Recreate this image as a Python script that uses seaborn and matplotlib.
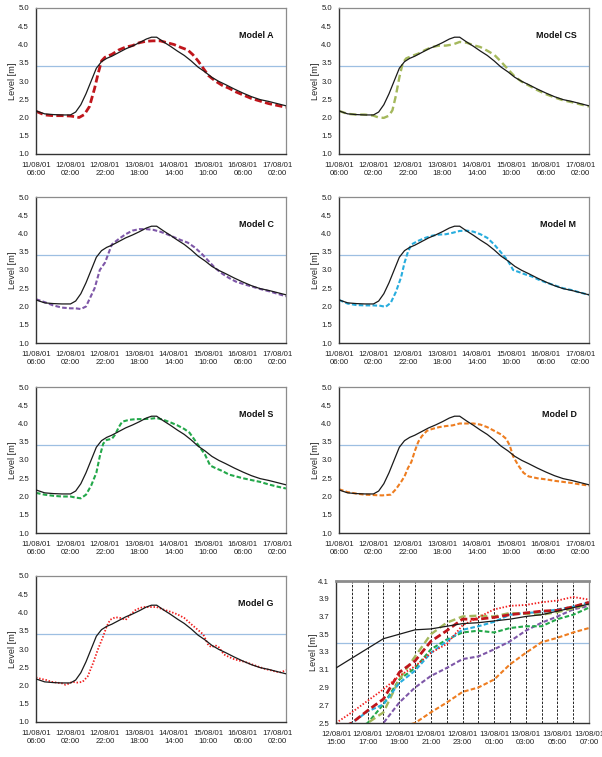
import matplotlib
matplotlib.use("Agg")
import matplotlib.pyplot as plt
import seaborn as sns
import pandas as pd

# hours after 11/08/01 06:00
tick_hours = [0, 20, 40, 60, 80, 100, 120, 140]
tick_labels = ["11/08/01\n06:00", "12/08/01\n02:00", "12/08/01\n22:00", "13/08/01\n18:00",
               "14/08/01\n14:00", "15/08/01\n10:00", "16/08/01\n06:00", "17/08/01\n02:00"]

obs_hours = [0, 5, 10, 15, 20, 23, 26, 29, 32, 35, 38, 41, 44, 48, 52, 56, 60, 64, 67, 70,
             74, 78, 82, 86, 90, 94, 98, 102, 106, 110, 115, 120, 125, 130, 135, 140, 145]
obs_level = [2.18, 2.10, 2.08, 2.07, 2.07, 2.15, 2.35, 2.65, 3.00, 3.35, 3.53, 3.62, 3.68, 3.78,
             3.88, 3.96, 4.05, 4.15, 4.20, 4.20, 4.07, 3.95, 3.82, 3.70, 3.55, 3.38, 3.25, 3.10,
             2.99, 2.90, 2.78, 2.67, 2.57, 2.49, 2.44, 2.38, 2.32]

a_hours = [0, 5, 10, 15, 20, 23, 25, 28, 31, 34, 36, 38, 40, 44, 48, 52, 56, 60, 64, 68, 72,
           76, 80, 84, 88, 91, 94, 97, 100, 104, 108, 112, 116, 120, 125, 130, 135, 140, 145]
a_level = [2.17, 2.07, 2.05, 2.05, 2.04, 2.02, 2.00, 2.08, 2.30, 2.80, 3.20, 3.55, 3.65, 3.73,
           3.85, 3.93, 3.97, 4.05, 4.09, 4.10, 4.10, 4.05, 4.00, 3.92, 3.85, 3.72, 3.55, 3.35,
           3.15, 3.00, 2.88, 2.80, 2.70, 2.62, 2.52, 2.45, 2.38, 2.33, 2.28]

cs_hours = [0, 5, 10, 15, 20, 23, 26, 29, 31, 33, 35, 37, 39, 42, 46, 50, 54, 58, 62, 66, 70,
            74, 78, 82, 86, 90, 94, 98, 102, 106, 110, 115, 120, 125, 130, 135, 140, 145]
cs_level = [2.18, 2.10, 2.08, 2.08, 2.05, 2.00, 1.99, 2.05, 2.20, 2.60, 3.10, 3.50, 3.62, 3.68,
            3.75, 3.85, 3.93, 3.97, 3.97, 4.00, 4.07, 4.05, 3.98, 3.93, 3.83, 3.72, 3.53, 3.32,
            3.12, 2.98, 2.88, 2.75, 2.64, 2.55, 2.47, 2.42, 2.36, 2.30]

c_hours = [0, 5, 10, 15, 20, 23, 26, 29, 31, 34, 37, 40, 42, 44, 48, 52, 56, 60, 64, 68, 72,
           76, 80, 84, 88, 92, 96, 100, 104, 108, 112, 116, 120, 125, 130, 135, 140, 145]
c_level = [2.20, 2.12, 2.03, 1.97, 1.95, 1.95, 1.93, 2.00, 2.20, 2.50, 3.00, 3.20, 3.45, 3.70,
           3.85, 3.98, 4.08, 4.12, 4.12, 4.10, 4.05, 3.98, 3.90, 3.82, 3.75, 3.62, 3.45, 3.25,
           3.05, 2.90, 2.78, 2.68, 2.62, 2.55, 2.48, 2.42, 2.35, 2.28]

m_hours = [0, 5, 10, 15, 20, 24, 27, 30, 33, 36, 38, 40, 42, 46, 50, 54, 58, 62, 66, 70, 74,
           78, 82, 86, 90, 94, 98, 101, 104, 108, 112, 116, 120, 125, 130, 135, 140, 145]
m_level = [2.18, 2.08, 2.04, 2.03, 2.03, 2.02, 1.99, 2.10, 2.40, 2.80, 3.20, 3.50, 3.70, 3.80,
           3.88, 3.94, 3.97, 3.98, 4.02, 4.07, 4.08, 4.05, 3.98, 3.88, 3.70, 3.48, 3.25, 3.00,
           2.95, 2.88, 2.82, 2.73, 2.66, 2.58, 2.50, 2.45, 2.38, 2.32]

s_hours = [0, 5, 10, 15, 20, 23, 26, 29, 32, 35, 37, 39, 41, 44, 46, 48, 50, 54, 58, 62, 66,
           70, 74, 78, 82, 86, 89, 92, 95, 98, 101, 104, 108, 112, 116, 120, 125, 130, 135,
           140, 145]
s_level = [2.10, 2.05, 2.02, 2.00, 2.00, 1.97, 1.95, 2.05, 2.30, 2.65, 3.10, 3.45, 3.55, 3.58,
           3.70, 3.90, 4.05, 4.10, 4.12, 4.12, 4.13, 4.15, 4.10, 4.03, 3.95, 3.85, 3.75, 3.55,
           3.35, 3.15, 2.85, 2.78, 2.70, 2.60, 2.55, 2.50, 2.45, 2.40, 2.33, 2.27, 2.22]

d_hours = [0, 5, 10, 15, 20, 25, 30, 33, 36, 38, 40, 42, 44, 46, 48, 51, 54, 58, 62, 66, 70,
           74, 78, 82, 86, 90, 94, 97, 99, 101, 104, 107, 110, 115, 120, 125, 130, 135, 140, 145]
d_level = [2.20, 2.12, 2.08, 2.05, 2.04, 2.03, 2.05, 2.20, 2.40, 2.55, 2.78, 2.95, 3.25, 3.50,
           3.65, 3.80, 3.85, 3.90, 3.93, 3.95, 4.00, 4.00, 4.00, 3.97, 3.90, 3.80, 3.70, 3.58,
           3.40, 3.10, 2.85, 2.65, 2.55, 2.50, 2.47, 2.43, 2.40, 2.37, 2.33, 2.30]

g_hours = [0, 3, 6, 9, 12, 15, 17, 19, 21, 24, 27, 30, 33, 36, 39, 41, 43, 46, 49, 52, 55, 58,
           62, 66, 70, 74, 78, 82, 86, 90, 94, 97, 100, 102, 104, 106, 109, 112, 115, 118, 121,
           124, 127, 130, 133, 136, 139, 142, 145]
g_level = [2.22, 2.18, 2.15, 2.10, 2.08, 2.06, 2.02, 2.05, 2.10, 2.08, 2.10, 2.25, 2.60, 3.00,
           3.35, 3.62, 3.80, 3.87, 3.85, 3.80, 3.95, 4.08, 4.15, 4.15, 4.15, 4.08, 4.02, 3.95,
           3.85, 3.68, 3.52, 3.40, 3.10, 3.05, 3.10, 3.05, 2.85, 2.78, 2.72, 2.68, 2.65, 2.60,
           2.55, 2.50, 2.45, 2.42, 2.38, 2.36, 2.42]

# zoomed window 12/08/01 15:00 .. 13/08/01 07:00, hourly
zoom_hours = list(range(33, 50))
zoom_tick_hours = [33, 35, 37, 39, 41, 43, 45, 47, 49]
zoom_tick_labels = ["12/08/01\n15:00", "12/08/01\n17:00", "12/08/01\n19:00", "12/08/01\n21:00",
                    "12/08/01\n23:00", "13/08/01\n01:00", "13/08/01\n03:00", "13/08/01\n05:00",
                    "13/08/01\n07:00"]
zoom_obs = [3.12, 3.23, 3.34, 3.45, 3.50, 3.55, 3.56, 3.59, 3.62, 3.63, 3.65, 3.67, 3.70, 3.72,
            3.76, 3.80, 3.84]
zoom_a = [2.42, 2.50, 2.64, 2.77, 3.07, 3.20, 3.42, 3.54, 3.67, 3.67, 3.69, 3.72, 3.74, 3.76,
          3.77, 3.81, 3.86]
zoom_cs = [2.20, 2.35, 2.50, 2.62, 2.99, 3.25, 3.50, 3.63, 3.70, 3.71, 3.70, 3.74, 3.73, 3.72,
           3.75, 3.79, 3.84]
zoom_c = [2.20, 2.30, 2.40, 2.50, 2.73, 2.90, 3.03, 3.12, 3.22, 3.25, 3.33, 3.42, 3.54, 3.63,
          3.70, 3.78, 3.82]
zoom_m = [2.42, 2.50, 2.63, 2.71, 2.95, 3.09, 3.29, 3.42, 3.55, 3.59, 3.64, 3.72, 3.74, 3.75,
          3.78, 3.81, 3.86]
zoom_s = [2.30, 2.40, 2.50, 2.71, 2.99, 3.12, 3.33, 3.44, 3.52, 3.54, 3.52, 3.57, 3.59, 3.59,
          3.67, 3.72, 3.80]
zoom_d = [2.10, 2.20, 2.30, 2.38, 2.45, 2.50, 2.62, 2.73, 2.85, 2.90, 2.99, 3.16, 3.29, 3.41,
          3.46, 3.52, 3.57]
zoom_g = [2.50, 2.62, 2.75, 2.88, 3.03, 3.14, 3.29, 3.39, 3.60, 3.69, 3.78, 3.82, 3.83, 3.86,
          3.88, 3.92, 3.89]

threshold = 3.4

RED = "#C0161C"
CS_COL = "#A4B85C"
PURPLE = "#7E57A8"
CYAN = "#27ADDE"
GREEN = "#23A84A"
ORANGE = "#EE7D20"
G_COL = "#F21C1C"
THR_COL = "#9DBFE2"

sns.set_style("white")
plt.rcParams["font.family"] = ["Liberation Sans", "DejaVu Sans"]

models = [
    ("Model A", a_hours, a_level, RED, 2.0, (2.6, 1.2)),
    ("Model CS", cs_hours, cs_level, CS_COL, 1.7, (3.0, 1.6)),
    ("Model C", c_hours, c_level, PURPLE, 1.5, (2.2, 1.1)),
    ("Model M", m_hours, m_level, CYAN, 1.5, (2.2, 1.1)),
    ("Model S", s_hours, s_level, GREEN, 1.5, (2.2, 1.1)),
    ("Model D", d_hours, d_level, ORANGE, 1.5, (2.2, 1.1)),
    ("Model G", g_hours, g_level, G_COL, 1.3, (0.8, 1.0)),
]

W, H = 602, 757
fig = plt.figure(figsize=(W / 100, H / 100), dpi=100)


def box(x0, y0, x1, y1):
    return [x0 / W, 1 - y1 / H, (x1 - x0) / W, (y1 - y0) / H]


def style_axes(ax, ylab_x):
    for side in ["top", "right"]:
        ax.spines[side].set_color("#8C8C8C")
        ax.spines[side].set_linewidth(0.9)
    for side in ["left", "bottom"]:
        ax.spines[side].set_color("#333333")
        ax.spines[side].set_linewidth(1.0)
    ax.tick_params(axis="both", labelsize=5.6, colors="#222222", length=2.5, width=0.8,
                   direction="out", pad=2.5)
    ax.tick_params(axis="x", pad=3.5)
    ax.set_xlabel("")
    ax.set_ylabel("Level [m]", fontsize=6.6, labelpad=2)
    ax.yaxis.set_label_coords(ylab_x, 0.5)
    for lab in ax.get_xticklabels():
        lab.set_linespacing(1.05)


cols = [(36, 286), (339, 589)]
rows = [(8, 154), (197, 343), (387, 533), (576, 722)]

for i, (name, hrs, lvl, color, lw, dash) in enumerate(models):
    x0, x1 = cols[i % 2]
    y0, y1 = rows[i // 2]
    ax = fig.add_axes(box(x0, y0, x1, y1))
    obs_df = pd.DataFrame({"hour": obs_hours, "level": obs_level})
    mod_df = pd.DataFrame({"hour": hrs, "level": lvl})
    ax.axhline(threshold, color=THR_COL, lw=0.9, zorder=1)
    sns.lineplot(data=obs_df, x="hour", y="level", ax=ax, color="#1a1a1a", lw=0.9, zorder=3)
    sns.lineplot(data=mod_df, x="hour", y="level", ax=ax, color=color, lw=lw, zorder=2)
    ax.lines[-1].set_dashes(dash)
    ax.set_xlim(0, 145)
    ax.set_ylim(1.0, 5.0)
    ax.set_yticks([1.0, 1.5, 2.0, 2.5, 3.0, 3.5, 4.0, 4.5, 5.0])
    ax.set_yticklabels([f"{v:.1f}" for v in ax.get_yticks()])
    ax.set_xticks(tick_hours)
    ax.set_xticklabels(tick_labels)
    style_axes(ax, -0.075)
    ax.text(0.95, 0.81, name, transform=ax.transAxes, ha="right", va="center",
            fontsize=6.4, fontweight="bold", color="#111111")

# zoomed comparison panel
ax = fig.add_axes(box(336, 581, 589, 723))
ax.axhline(threshold, color=THR_COL, lw=0.9, zorder=1)
for h in zoom_hours[1:-1]:
    ax.axvline(h, color="#222222", lw=0.7, ls=(0, (2.5, 1.5)), zorder=1)
zoom_series = [
    (zoom_d, ORANGE, 1.5, (2.2, 1.1)),
    (zoom_c, PURPLE, 1.5, (2.2, 1.1)),
    (zoom_s, GREEN, 1.5, (2.2, 1.1)),
    (zoom_cs, CS_COL, 1.7, (3.0, 1.6)),
    (zoom_m, CYAN, 1.5, (2.2, 1.1)),
    (zoom_a, RED, 2.0, (2.6, 1.2)),
    (zoom_g, G_COL, 1.3, (0.8, 1.0)),
]
for vals, color, lw, dash in zoom_series:
    df = pd.DataFrame({"hour": zoom_hours, "level": vals})
    sns.lineplot(data=df, x="hour", y="level", ax=ax, color=color, lw=lw, zorder=2)
    ax.lines[-1].set_dashes(dash)
obs_zoom_df = pd.DataFrame({"hour": zoom_hours, "level": zoom_obs})
sns.lineplot(data=obs_zoom_df, x="hour", y="level", ax=ax, color="#1a1a1a", lw=0.9, zorder=3)
ax.set_xlim(33, 49)
ax.set_ylim(2.5, 4.1)
ax.set_yticks([2.5, 2.7, 2.9, 3.1, 3.3, 3.5, 3.7, 3.9, 4.1])
ax.set_yticklabels([f"{v:.1f}" for v in ax.get_yticks()])
ax.set_xticks(zoom_tick_hours)
ax.set_xticklabels(zoom_tick_labels)
style_axes(ax, -0.07)
ax.spines["top"].set_linewidth(2.0)

fig.savefig("out.png", dpi=100)
